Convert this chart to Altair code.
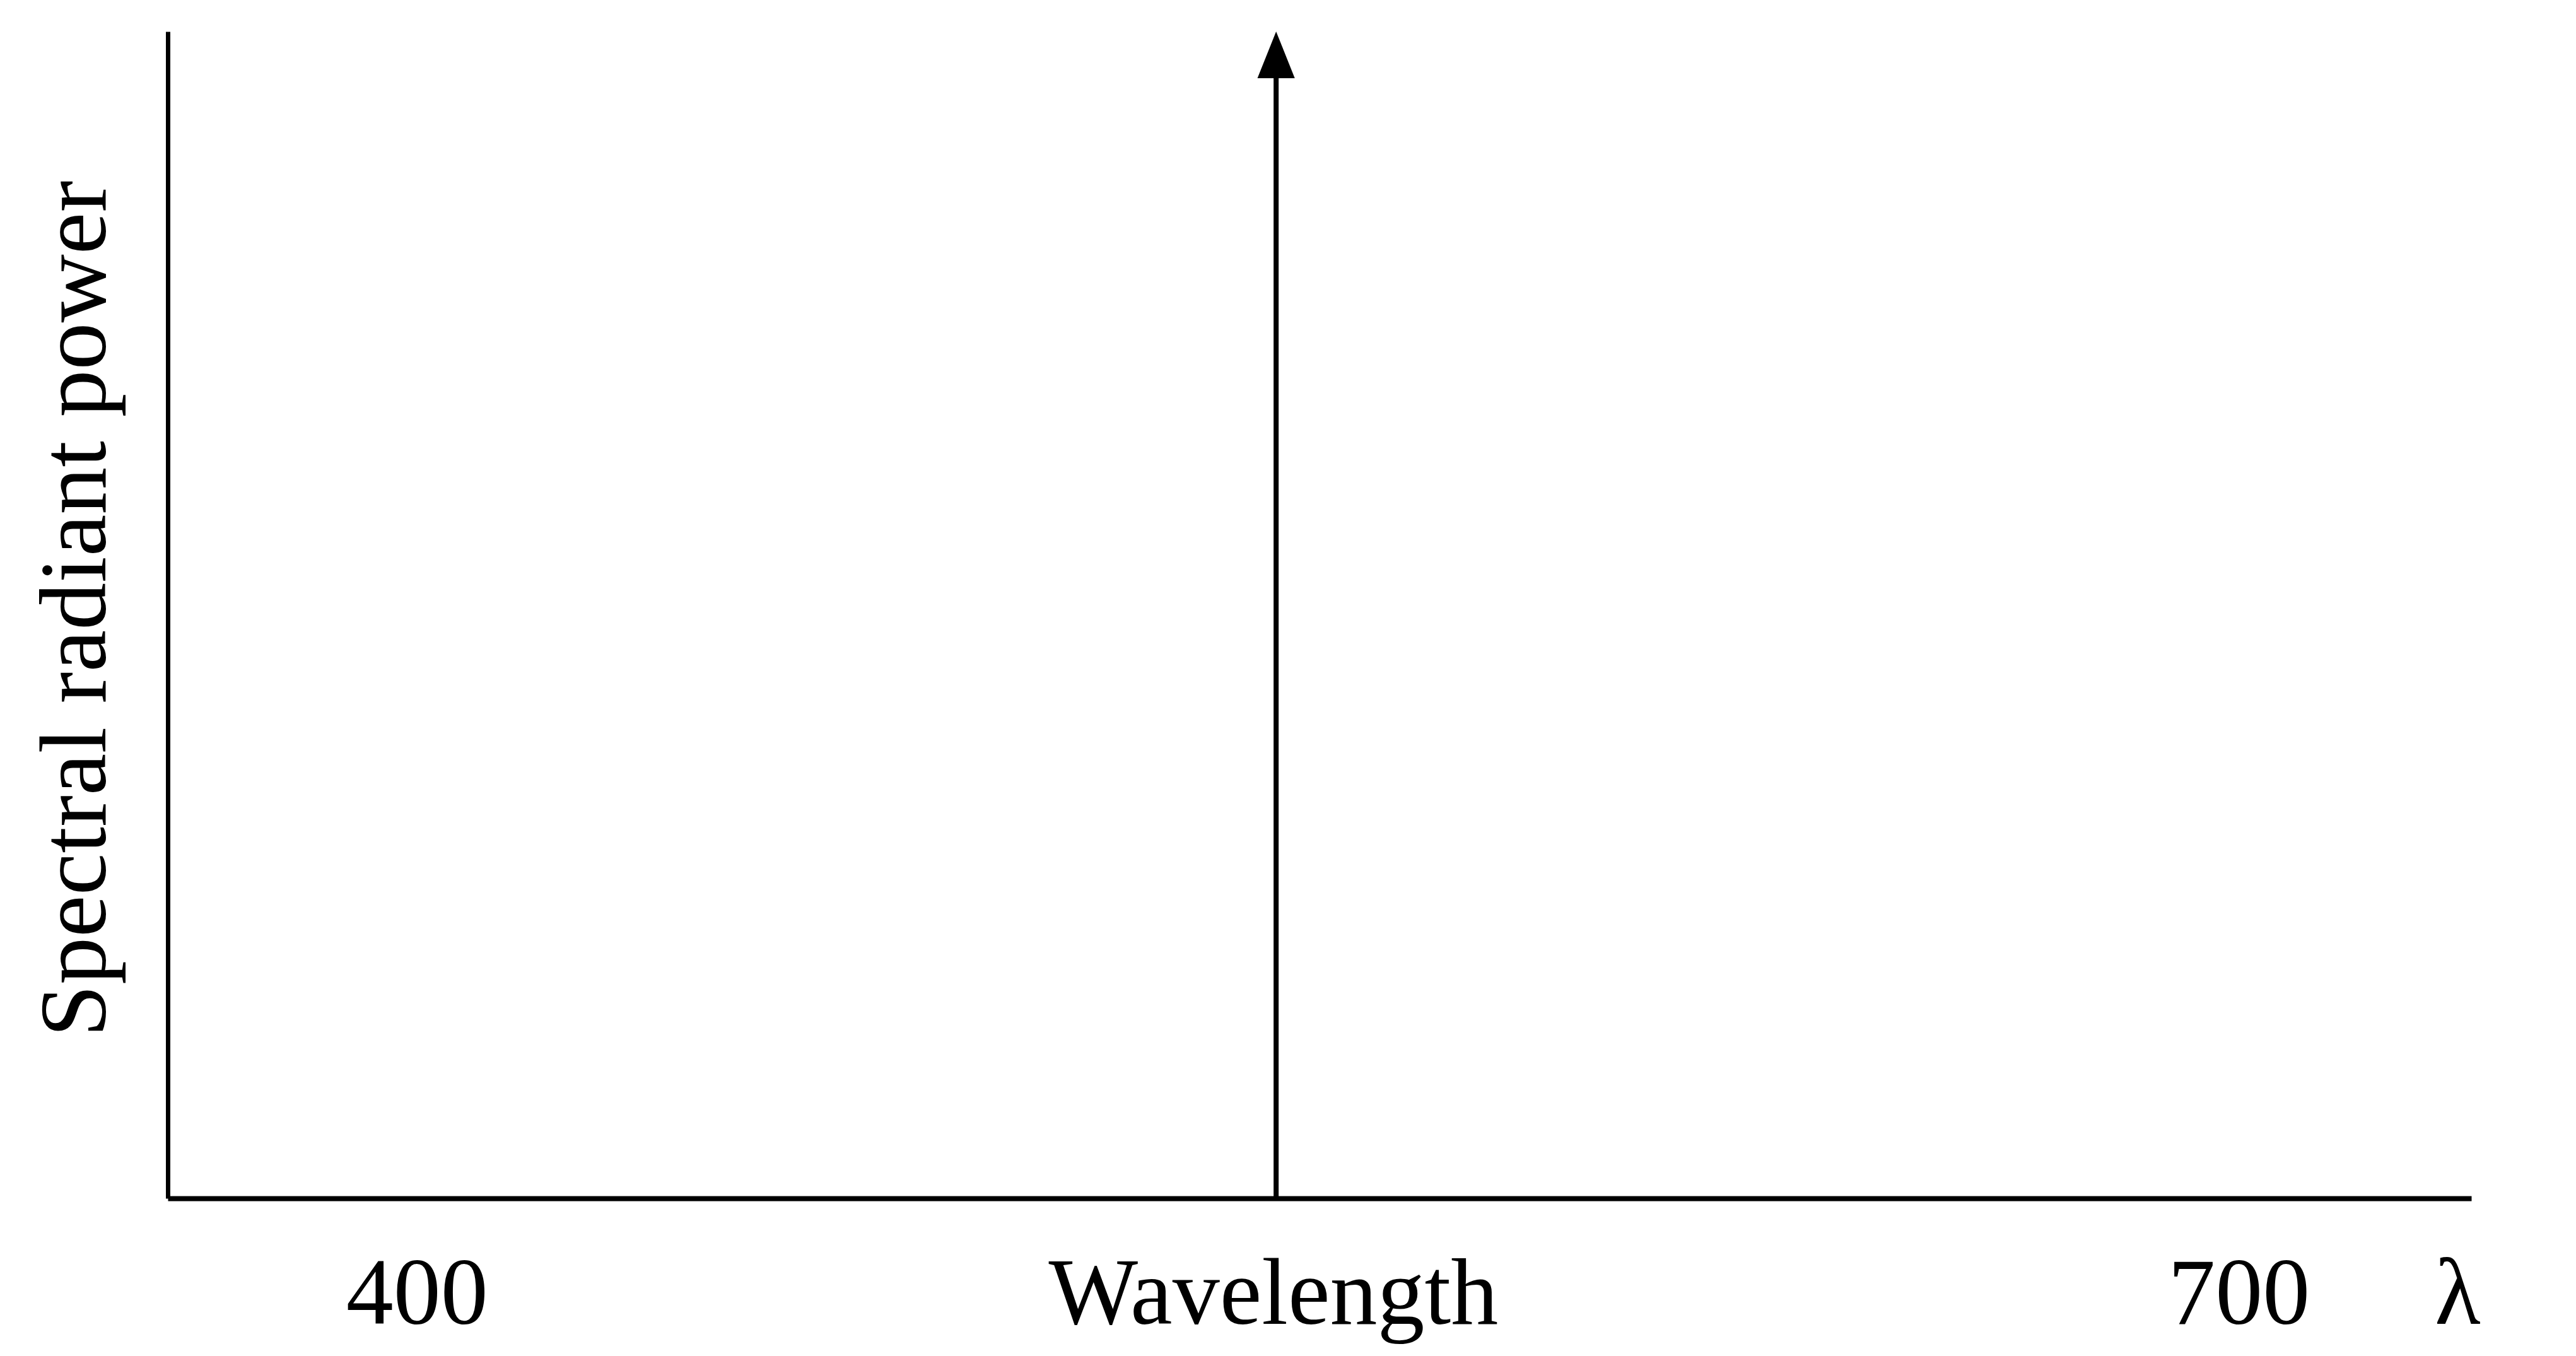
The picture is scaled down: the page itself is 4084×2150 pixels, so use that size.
import altair as alt
import pandas as pd

# ---- data ----
spike_wavelength = [541.5]          # wavelength of the monochromatic spike
spike_power = [100]                 # relative spectral radiant power (top of arrow)
spike_base = [0]
x_domain = [359, 738.3]
y_domain = [0, 100]
tick_values = [400, 541, 700, 736]
tick_labels = ["400", "Wavelength", "700", "λ"]
y_title = "Spectral radiant power"

FONT = "Liberation Serif"
FS = 150

df = pd.DataFrame({"wavelength": spike_wavelength,
                   "power": spike_power,
                   "base": spike_base})

label_expr = " : ".join(f"datum.value == {v} ? '{l}'" for v, l in zip(tick_values, tick_labels)) + " : ''"

x_scale = alt.Scale(domain=x_domain, nice=False, zero=False)
y_scale = alt.Scale(domain=y_domain, nice=False, zero=True)

x_axis = alt.Axis(values=tick_values, labelExpr=label_expr, title=None,
                  ticks=False, grid=False, domainColor="black", domainWidth=8,
                  labelFont=FONT, labelFontSize=FS, labelColor="black",
                  labelPadding=198, labelBaseline="alphabetic", labelLimit=2000,
                  labelOverlap=False, labelFlush=False, labelBound=False)

y_axis = alt.Axis(title=y_title, labels=False, ticks=False, grid=False,
                  domainColor="black", domainWidth=7,
                  titleFont=FONT, titleFontSize=FS, titleFontWeight="normal",
                  titleColor="black", titleBaseline="alphabetic", titleAngle=270,
                  titlePadding=100, titleY=915, titleLimit=3000)

stem = alt.Chart(df).mark_rule(color="black", strokeWidth=8, y2Offset=60).encode(
    x=alt.X("wavelength:Q", scale=x_scale, axis=x_axis),
    y=alt.Y("base:Q", scale=y_scale, axis=y_axis),
    y2="power:Q",
)

head = alt.Chart(df).mark_point(shape="M0,0L0.8,2L-0.8,2Z", size=5476, filled=True,
                                color="black", opacity=1, strokeWidth=0).encode(
    x=alt.X("wavelength:Q", title=None),
    y=alt.Y("power:Q", title=y_title),
)

chart = alt.layer(stem, head).properties(
    width=3652, height=1850,
    autosize=alt.AutoSizeParams(type="none"),
    padding={"left": 258, "top": 42, "right": 150, "bottom": 240},
    background="white",
).configure_view(stroke=None)

chart.save("out.html", embed_options={"renderer": "svg", "actions": False})
